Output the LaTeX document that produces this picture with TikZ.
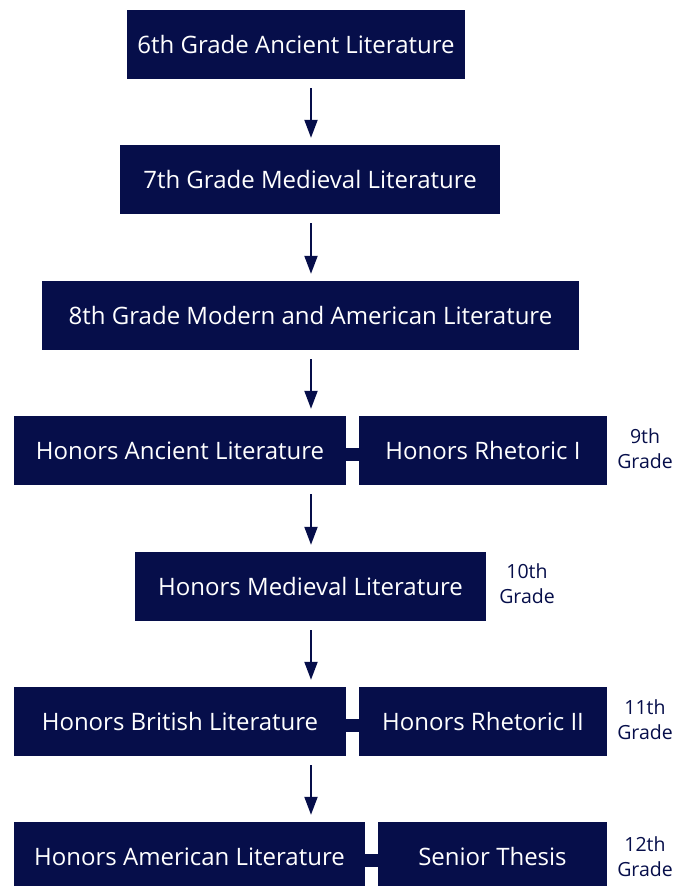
\documentclass[tikz,border=0pt]{standalone}
\usepackage{fontspec}
\setmainfont{Open Sans}
\usetikzlibrary{arrows.meta}
\definecolor{navy}{HTML}{060E4A}
\tikzset{
	course/.style={fill=navy,text=white,inner sep=0pt,minimum height=69pt,
		font=\fontsize{24}{28}\selectfont},
	grade/.style={text=navy,align=center,font=\fontsize{19.5}{25}\selectfont},
	flow/.style={navy,line width=2pt,-{Triangle[length=18pt,width=13pt]},
		shorten <=9pt,shorten >=7pt},
	link/.style={navy,line width=13pt}
}

\begin{document}
\begin{tikzpicture}[x=1pt,y=-1pt]
\fill[white] (0,0) rectangle (691,886);
\useasboundingbox (0,0) rectangle (691,886);
\coordinate (mid) at (311,0);
%middle school
\node[course,minimum width=338pt] (sixth) at (296,44.5) {6th Grade Ancient Literature};
\node[course,minimum width=380pt] (seventh) at (310,179.5) {7th Grade Medieval Literature};
\node[course,minimum width=537pt] (eighth) at (310.5,315.5) {8th Grade Modern and American Literature};
%9th grade
\node[course,minimum width=332pt] (hanc) at (180,450.5) {Honors Ancient Literature};
\node[course,minimum width=248pt] (rhetone) at (483,450.5) {Honors Rhetoric I};
\node[grade] (gnine) at (645,449) {9th\\Grade};
%10th grade
\node[course,minimum width=351pt] (hmed) at (310.5,586.5) {Honors Medieval Literature};
\node[grade] (gten) at (527,584) {10th\\Grade};
%11th grade
\node[course,minimum width=332pt] (hbrit) at (180,721.5) {Honors British Literature};
\node[course,minimum width=248pt] (rhettwo) at (483,721.5) {Honors Rhetoric II};
\node[grade] (geleven) at (645,720) {11th\\Grade};
%12th grade
\node[course,minimum width=351pt] (hamer) at (189.5,856.5) {Honors American Literature};
\node[course,minimum width=229pt] (thesis) at (492.5,856.5) {Senior Thesis};
\node[grade] (gtwelve) at (645,857) {12th\\Grade};
%links
\foreach \a/\b in {hanc/rhetone,hbrit/rhettwo,hamer/thesis}
	\draw[link] ([yshift=-4pt]\a.east) -- ([yshift=-4pt]\b.west);
%arrows
\foreach \a/\b in {sixth/seventh,seventh/eighth,eighth/hanc,hanc/hmed,hmed/hbrit,hbrit/hamer}
	\draw[flow] (\a.south -| mid) -- (\b.north -| mid);
\end{tikzpicture}
\end{document}
